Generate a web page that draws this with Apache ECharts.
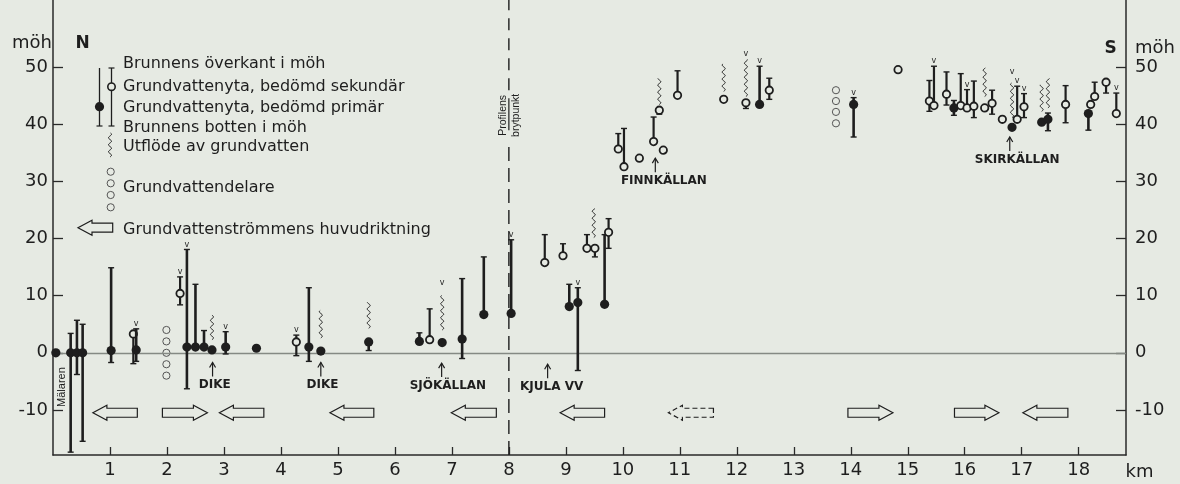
<!DOCTYPE html>
<html><head><meta charset="utf-8">
<script src="https://cdn.jsdelivr.net/npm/echarts@6/dist/echarts.min.js"></script>
<style>html,body{margin:0;padding:0;background:#e6eae3;}#c{width:1180px;height:484px;}</style>
</head><body><div id="c"></div>
<script>
// ---------- data ----------
const kmTicks = [1,2,3,4,5,6,7,8,9,10,11,12,13,14,15,16,17,18];
const levelTicks = [-10,0,10,20,30,40,50];

// wells: position (km), groundwater level, top of well, bottom of well (möh), P = primär, S = sekundär
const wellKm     = [0.05,0.31,0.42,0.52,1.02,1.41,1.46,2.23,2.35,2.50,2.65,2.79,3.03,3.57,4.27,4.49,4.70,5.54,6.43,6.61,6.83,7.18,7.56,8.04,8.63,8.95,9.06,9.21,9.37,9.51,9.68,9.75,9.92,10.02,10.29,10.54,10.64,10.71,10.96,11.77,12.16,12.40,12.57,14.05,14.83,15.38,15.46,15.68,15.81,15.93,16.04,16.16,16.35,16.48,16.66,16.83,16.92,17.04,17.35,17.46,17.77,18.17,18.21,18.28,18.48,18.66];
const wellLevel  = [0,0,0,0,0.4,3.3,0.5,10.4,1.0,1.0,1.0,0.5,1.0,0.8,1.9,1.0,0.3,1.9,2.0,2.3,1.8,2.4,6.7,6.9,15.8,17.0,8.1,8.8,18.3,18.3,8.5,21.1,35.7,32.6,34.1,37.0,42.5,35.5,45.1,44.4,43.8,43.5,46.0,43.5,49.6,44.1,43.3,45.3,42.9,43.3,42.9,43.2,42.9,43.7,40.9,39.5,40.9,43.1,40.4,40.9,43.5,41.9,43.5,44.9,47.4,41.9];
const wellTop    = [null,3.4,5.7,5.0,14.9,null,4.2,13.3,18.1,12.0,3.9,null,3.7,null,3.1,11.4,null,null,3.5,7.7,null,13.0,16.8,19.8,20.7,19.1,12.0,11.4,20.7,null,20.7,23.5,38.4,39.3,null,41.3,null,null,49.4,null,null,50.2,48.1,44.7,null,47.7,50.2,49.2,44.2,48.9,46.1,47.6,null,46.0,null,null,46.7,45.4,null,42.0,46.8,null,null,47.4,null,45.5];
const wellBottom = [null,-17.4,-3.8,-15.5,-1.7,-1.9,-1.5,8.4,-6.3,null,null,null,-0.2,null,-0.5,-1.5,null,0.4,null,null,null,-1.0,null,null,null,null,null,-3.1,null,16.8,null,18.3,null,null,null,null,41.8,null,null,null,42.8,null,44.4,37.8,null,42.3,null,43.4,41.6,null,null,41.2,null,41.8,null,null,null,41.2,null,38.9,40.3,39.0,null,null,45.5,null];
const wellType   = ['P','P','P','P','P','S','P','S','P','P','P','P','P','P','S','P','P','P','P','S','P','P','P','P','S','S','P','P','S','S','P','S','S','S','S','S','S','S','S','S','S','P','S','P','S','S','S','S','P','S','S','S','S','S','S','P','S','S','P','P','S','P','S','S','S','S'];

// "v" marks above wells
const vMarkKm    = [1.46,2.23,2.35,3.03,4.27,6.83,8.04,9.21,12.16,12.40,14.05,15.46,16.04,16.83,16.92,17.04,18.66];
const vMarkLevel = [4.2,13.3,18.1,3.7,3.1,11.3,19.8,11.4,51.4,50.2,44.7,50.2,46.1,48.4,46.7,45.4,45.5];

// outflow of groundwater (wavy lines)
const outflowKm   = [2.79,4.70,5.54,6.83,9.49,10.64,11.77,12.16,16.35,16.83,17.35,17.46];
const outflowFrom = [2.3,2.6,4.3,4.0,20.2,43.5,45.8,44.9,44.9,41.2,42.3,42.9];
const outflowTo   = [6.6,7.5,8.9,10.1,25.3,48.1,50.7,51.4,49.9,47.3,47.0,48.1];

// groundwater divides (columns of small circles)
const dividerKm    = [1.99,1.99,1.99,1.99,1.99,13.74,13.74,13.74,13.74];
const dividerLevel = [-4,-2,0,2,4,40.2,42.2,44.1,46.0];

// main groundwater flow direction arrows
const arrowTail   = [1.48,1.92,3.70,5.63,7.78,9.68,11.59,13.95,15.82,17.81];
const arrowHead   = [0.70,2.71,2.92,4.86,6.99,8.90,10.80,14.74,16.60,17.02];
const arrowLevel  = -10.5;
const arrowDashed = [0,0,0,0,0,0,1,0,0,0];

// named places
const placeNames   = ['DIKE','DIKE','SJÖKÄLLAN','KJULA VV','FINNKÄLLAN','SKIRKÄLLAN'];
const placeKm      = [2.80,4.70,6.82,8.68,10.57,16.79];
const placeTip     = [-1.7,-1.7,-1.8,-2.0,34.1,37.8];
const placeLabelKm = [2.84,4.73,6.93,8.75,10.72,16.92];

// rotated annotations
const rotTextStr   = ['Mälaren','Profilens','brytpunkt'];
const rotTextKm    = [0.16,7.90,8.13];
const rotTextLevel = [-6.0,41.6,41.6];

const breakKm = 8.0;

// ---------- chart ----------
const X_MIN = 0, X_MAX = 18.83, Y_MIN = -17.9, Y_MAX = 61.8;
const INK = '#1e1e1e', BG = '#e6eae3', FONT = '"DejaVu Sans"';

const wellData = wellKm.map((k, i) => [k, wellLevel[i],
  wellTop[i] == null ? wellLevel[i] : wellTop[i],
  wellBottom[i] == null ? wellLevel[i] : wellBottom[i],
  wellType[i] === 'P' ? 1 : 0]);

function txt(text, x, y, font, extra) {
  return Object.assign({type: 'text', style: {text, x, y, font, fill: INK,
    align: 'center', verticalAlign: 'middle', textAlign: 'center', textVerticalAlign: 'middle'}}, extra || {});
}

function wellItem(params, api) {
  const x = api.value(0), prim = api.value(4);
  const pL = api.coord([x, api.value(1)]), pT = api.coord([x, api.value(2)]), pB = api.coord([x, api.value(3)]);
  const lw = prim ? 2.6 : 2.2;
  const ch = [];
  if (pL[1] - pT[1] > 1) {
    ch.push({type: 'line', shape: {x1: pL[0], y1: pL[1], x2: pT[0], y2: pT[1]}, style: {stroke: INK, lineWidth: lw}});
    ch.push({type: 'line', shape: {x1: pT[0] - 3, y1: pT[1], x2: pT[0] + 3, y2: pT[1]}, style: {stroke: INK, lineWidth: 1.4}});
  }
  if (pB[1] - pL[1] > 1) {
    ch.push({type: 'line', shape: {x1: pL[0], y1: pL[1], x2: pB[0], y2: pB[1]}, style: {stroke: INK, lineWidth: lw}});
    ch.push({type: 'line', shape: {x1: pB[0] - 3, y1: pB[1], x2: pB[0] + 3, y2: pB[1]}, style: {stroke: INK, lineWidth: 1.4}});
  }
  ch.push({type: 'circle', shape: {cx: pL[0], cy: pL[1], r: prim ? 4.6 : 3.7},
    style: prim ? {fill: INK} : {fill: BG, stroke: INK, lineWidth: 1.8}});
  return {type: 'group', children: ch};
}

function wavePoints(x, yBottom, yTop) {
  const pts = [];
  const len = yBottom - yTop;
  for (let t = 0; t <= len; t += 0.5) pts.push([x + 1.5 * Math.sin(t / 7 * 2 * Math.PI), yBottom - t]);
  return pts;
}

function waveItem(params, api) {
  const p1 = api.coord([api.value(0), api.value(1)]), p2 = api.coord([api.value(0), api.value(2)]);
  return {type: 'polyline', shape: {points: wavePoints(p1[0], p1[1], p2[1])}, style: {stroke: INK, lineWidth: 1, fill: null}};
}

function arrowPts(tx, hx, y) {
  const d = hx > tx ? 1 : -1, hl = 14, sh = 4.5, hh = 7.5, bx = hx - d * hl;
  return [[tx, y - sh], [bx, y - sh], [bx, y - hh], [hx, y], [bx, y + hh], [bx, y + sh], [tx, y + sh]];
}

function arrowItem(params, api) {
  const t = api.coord([api.value(0), api.value(2)]), h = api.coord([api.value(1), api.value(2)]);
  return {type: 'polygon', shape: {points: arrowPts(t[0], h[0], t[1])},
    style: {fill: null, stroke: INK, lineWidth: 1.2, lineDash: api.value(3) ? [5, 3] : null}};
}

function dividerItem(params, api) {
  const p = api.coord([api.value(0), api.value(1)]);
  return {type: 'circle', shape: {cx: p[0], cy: p[1], r: 3.6}, style: {fill: BG, stroke: '#555', lineWidth: 1}};
}

function vItem(params, api) {
  const p = api.coord([api.value(0), api.value(1)]);
  return txt('v', p[0], p[1] - 5, '8px ' + FONT);
}

function placeItem(params, api) {
  const tip = api.coord([api.value(0), api.value(1)]);
  const lab = api.coord([api.value(2), api.value(1)]);
  return {type: 'group', children: [
    {type: 'line', shape: {x1: tip[0], y1: tip[1], x2: tip[0], y2: tip[1] + 14}, style: {stroke: INK, lineWidth: 1.2}},
    {type: 'polyline', shape: {points: [[tip[0] - 3, tip[1] + 5], [tip[0], tip[1]], [tip[0] + 3, tip[1] + 5]]}, style: {stroke: INK, lineWidth: 1.2, fill: null}},
    txt(placeNames[params.dataIndex], lab[0], tip[1] + 22.5, 'bold 12px ' + FONT)
  ]};
}

function rotItem(params, api) {
  const p = api.coord([api.value(0), api.value(1)]);
  const s = rotTextStr[params.dataIndex];
  return {type: 'text', x: p[0], y: p[1], rotation: Math.PI / 2,
    style: {text: s, x: 0, y: 0, font: (params.dataIndex === 0 ? '11px ' : '10.5px ') + '"Liberation Sans"', fill: INK,
      align: 'center', verticalAlign: 'middle', textAlign: 'center', textVerticalAlign: 'middle'}};
}

function breakItem(params, api) {
  const x = api.value(0);
  const c = v => api.coord([x, v]);
  const a = c(Y_MIN), b = c(36.9), f1 = c(39.0), f2 = c(44.6), d = c(46.0), e = c(Y_MAX);
  return {type: 'group', children: [
    {type: 'line', shape: {x1: a[0], y1: a[1], x2: b[0], y2: b[1]}, style: {stroke: INK, lineWidth: 1.4, lineDash: [14, 7]}},
    {type: 'line', shape: {x1: f1[0], y1: f1[1], x2: f2[0], y2: f2[1]}, style: {stroke: INK, lineWidth: 1.2}},
    {type: 'line', shape: {x1: d[0], y1: d[1], x2: e[0], y2: e[1]}, style: {stroke: INK, lineWidth: 1.4, lineDash: [12, 8]}}
  ]};
}

// legend (drawn as graphics in pixel space, top left)
const legendTexts = ['Brunnens överkant i möh','Grundvattenyta, bedömd sekundär','Grundvattenyta, bedömd primär','Brunnens botten i möh','Utflöde av grundvatten','Grundvattendelare','Grundvattenströmmens huvudriktning'];
const legendRowY = [64.3, 86.7, 108, 127.7, 146.7, 188.3, 230];
const legendGraphics = [];
legendTexts.forEach((t, i) => legendGraphics.push({type: 'text', x: 123, y: legendRowY[i],
  style: {text: t, font: '16px ' + FONT, fill: INK, align: 'left', verticalAlign: 'middle', textAlign: 'left', textVerticalAlign: 'middle'}}));
legendGraphics.push(
  {type: 'line', shape: {x1: 99.5, y1: 68, x2: 99.5, y2: 126}, style: {stroke: INK, lineWidth: 1.3}},
  {type: 'line', shape: {x1: 96.5, y1: 126, x2: 102.5, y2: 126}, style: {stroke: INK, lineWidth: 1.2}},
  {type: 'circle', shape: {cx: 99.5, cy: 106.7, r: 4.6}, style: {fill: INK}},
  {type: 'line', shape: {x1: 111.5, y1: 68, x2: 111.5, y2: 126}, style: {stroke: INK, lineWidth: 1.3}},
  {type: 'line', shape: {x1: 108.5, y1: 68, x2: 114.5, y2: 68}, style: {stroke: INK, lineWidth: 1.2}},
  {type: 'line', shape: {x1: 108.5, y1: 126, x2: 114.5, y2: 126}, style: {stroke: INK, lineWidth: 1.2}},
  {type: 'circle', shape: {cx: 111.5, cy: 86.7, r: 3.7}, style: {fill: BG, stroke: INK, lineWidth: 1.6}},
  {type: 'polyline', shape: {points: wavePoints(110, 157, 133)}, style: {stroke: INK, lineWidth: 1, fill: null}},
  {type: 'polygon', shape: {points: arrowPts(112.7, 78, 227.7)}, style: {fill: null, stroke: INK, lineWidth: 1.2}}
);
[171.7, 183.3, 195, 207.3].forEach(y => legendGraphics.push({type: 'circle', shape: {cx: 110.7, cy: y, r: 3.6}, style: {fill: BG, stroke: '#555', lineWidth: 1}}));

function plainText(t, x, y, font) {
  return {type: 'text', x, y, style: {text: t, font, fill: INK, align: 'center', verticalAlign: 'middle', textAlign: 'center', textVerticalAlign: 'middle'}};
}
const axisTitles = [
  plainText('möh', 32, 43.5, '18px ' + FONT),
  plainText('N', 82.5, 43.5, 'bold 17px ' + FONT),
  plainText('S', 1110.5, 48.5, 'bold 17px ' + FONT),
  plainText('möh', 1155, 48.5, '18px ' + FONT),
  plainText('km', 1139.5, 472, '18px ' + FONT)
];

const axisLineStyle = {color: '#2a2a2a', width: 1.5};
const yAxisBase = {
  type: 'value', min: Y_MIN, max: Y_MAX,
  axisLine: {show: true, onZero: false, lineStyle: axisLineStyle},
  axisTick: {show: true, inside: true, length: 10, customValues: levelTicks, lineStyle: {color: '#2a2a2a', width: 1.3}},
  splitLine: {show: false}
};

const option = {
  backgroundColor: BG,
  animation: false,
  grid: {left: 53, right: 54, top: 0, bottom: 29, containLabel: false},
  xAxis: {
    type: 'value', min: X_MIN, max: X_MAX,
    axisLine: {show: true, onZero: false, lineStyle: axisLineStyle},
    axisTick: {show: true, inside: true, length: 8, customValues: kmTicks, lineStyle: {color: '#2a2a2a', width: 1.3}},
    axisLabel: {customValues: kmTicks, margin: 6, fontSize: 18, fontFamily: 'DejaVu Sans', color: INK},
    splitLine: {show: false}
  },
  yAxis: [
    Object.assign({}, yAxisBase, {position: 'left',
      axisLabel: {customValues: levelTicks, margin: 5, fontSize: 18, fontFamily: 'DejaVu Sans', color: INK}}),
    Object.assign({}, yAxisBase, {position: 'right',
      axisLabel: {customValues: levelTicks, margin: 9, fontSize: 18, fontFamily: 'DejaVu Sans', color: INK}})
  ],
  graphic: legendGraphics.concat(axisTitles),
  series: [
    {type: 'line', data: [], z: 1, markLine: {silent: true, symbol: 'none', label: {show: false},
      lineStyle: {color: '#858a84', width: 1.4, type: 'solid'}, data: [{yAxis: 0}]}},
    {type: 'custom', name: 'break', z: 2, clip: false, renderItem: breakItem, data: [[breakKm, 0]], encode: {x: 0, y: 1}},
    {type: 'custom', name: 'arrows', z: 3, clip: false, renderItem: arrowItem,
      data: arrowTail.map((t, i) => [t, arrowHead[i], arrowLevel, arrowDashed[i]]), encode: {x: 0, y: 2}},
    {type: 'custom', name: 'dividers', z: 3, clip: false, renderItem: dividerItem,
      data: dividerKm.map((k, i) => [k, dividerLevel[i]]), encode: {x: 0, y: 1}},
    {type: 'custom', name: 'outflow', z: 4, clip: false, renderItem: waveItem,
      data: outflowKm.map((k, i) => [k, outflowFrom[i], outflowTo[i]]), encode: {x: 0, y: 1}},
    {type: 'custom', name: 'wells', z: 5, clip: false, renderItem: wellItem, data: wellData, encode: {x: 0, y: 1}},
    {type: 'custom', name: 'v', z: 5, clip: false, renderItem: vItem,
      data: vMarkKm.map((k, i) => [k, vMarkLevel[i]]), encode: {x: 0, y: 1}},
    {type: 'custom', name: 'places', z: 5, clip: false, renderItem: placeItem,
      data: placeKm.map((k, i) => [k, placeTip[i], placeLabelKm[i]]), encode: {x: 0, y: 1}},
    {type: 'custom', name: 'rot', z: 5, clip: false, renderItem: rotItem,
      data: rotTextKm.map((k, i) => [k, rotTextLevel[i]]), encode: {x: 0, y: 1}}
  ]
};

const chart = echarts.init(document.getElementById('c'));
chart.setOption(option);
</script>
</body></html>
